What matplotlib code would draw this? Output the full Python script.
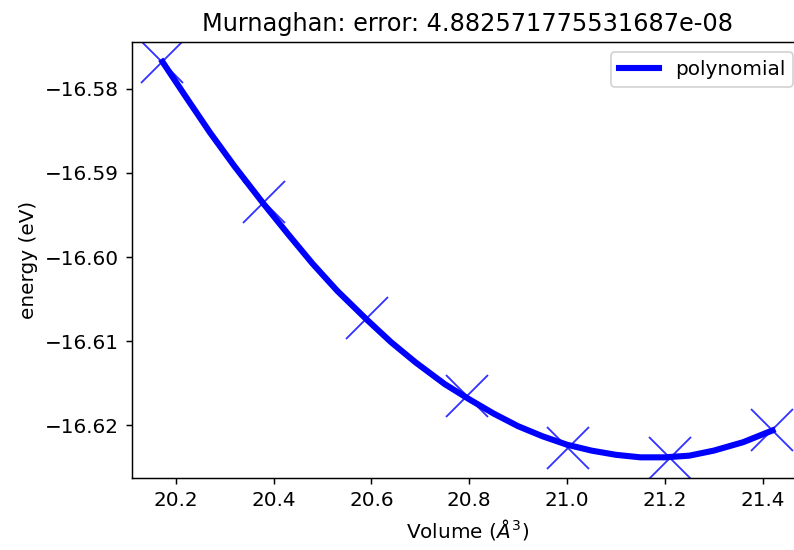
import matplotlib
matplotlib.use("Agg")
import matplotlib.pyplot as plt

# data points
volumes = [20.173, 20.380, 20.591, 20.795, 21.002, 21.210, 21.419]
energies = [-16.5768, -16.5935, -16.6072, -16.6165, -16.6227, -16.6239, -16.6206]

# fitted curve
fit_vol = [20.173, 20.22, 20.27, 20.32, 20.38, 20.43, 20.48, 20.53, 20.59,
           20.64, 20.69, 20.75, 20.80, 20.85, 20.90, 20.95, 21.00, 21.05,
           21.10, 21.15, 21.20, 21.25, 21.30, 21.36, 21.42]
fit_energy = [-16.5768, -16.5809, -16.5852, -16.5892, -16.5937, -16.5973,
              -16.6008, -16.6040, -16.6074, -16.6101, -16.6125, -16.6151,
              -16.6169, -16.6186, -16.6201, -16.6213, -16.6223, -16.6230,
              -16.6235, -16.6238, -16.6238, -16.6236, -16.6230, -16.6220,
              -16.6206]

error = "4.882571775531687e-08"

plt.rcParams['font.size'] = 10.8
plt.rcParams['axes.titlesize'] = 13

dpi = 133
fig = plt.figure(figsize=(794 / dpi, 550 / dpi), dpi=dpi)
ax = fig.add_axes([132 / 794, 72 / 550, 671 / 794, 436 / 550])

ax.plot(volumes, energies, 'bx', markersize=23, markeredgewidth=1, alpha=0.8)
ax.plot(fit_vol, fit_energy, 'b-', linewidth=3.3, label='polynomial')

ax.set_xlabel(r'Volume ($\AA^3$)')
ax.set_ylabel('energy (eV)')
ax.set_title('Murnaghan: error: ' + error)
ax.legend(loc='upper right')

fig.savefig('out.png', dpi=dpi)
